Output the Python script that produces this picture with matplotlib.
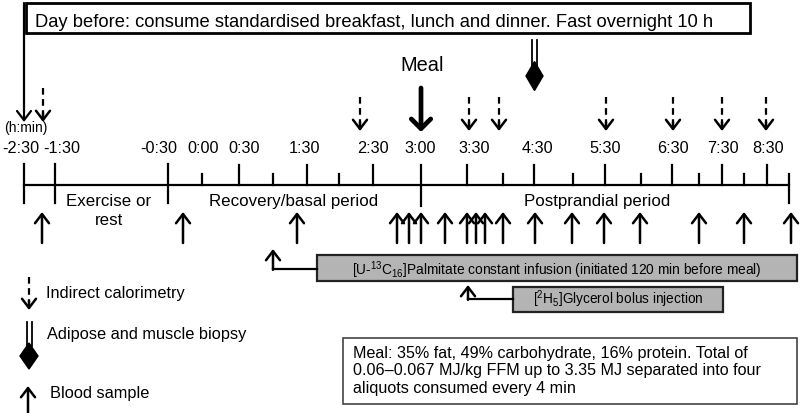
import matplotlib
matplotlib.use("Agg")
import matplotlib.pyplot as plt
from matplotlib.patches import Rectangle, Polygon

plt.rcParams['font.family'] = ['Liberation Sans', 'DejaVu Sans']
plt.rcParams['mathtext.fontset'] = 'custom'
plt.rcParams['mathtext.rm'] = 'Liberation Sans'
plt.rcParams['mathtext.it'] = 'Liberation Sans:italic'
plt.rcParams['mathtext.bf'] = 'Liberation Sans:bold'

# ---- schematic timeline content (positions are schematic, not to scale) ----
tick_labels = ['-2:30', '-1:30', '-0:30', '0:00', '0:30', '1:30', '2:30',
               '3:00', '3:30', '4:30', '5:30', '6:30', '7:30', '8:30']
label_pos = [21, 62, 159, 203, 244, 305, 373, 420, 474, 537, 605, 673, 723, 768]
major_ticks = [239, 307, 373, 467, 534, 605, 672, 722, 767]
long_ticks = [24, 55, 168]
meal_tick = 421
end_tick = 789
minor_ticks = [202, 273, 339, 503, 573, 641, 699, 744]
blood_samples = [42, 183, 297, 397, 409, 421, 445, 467, 476, 485, 503,
                 535, 572, 604, 640, 699, 744, 791]
calorimetry = [43, 360, 469, 499, 606, 673, 722, 766]
biopsy = [534.5]
meal_time = 421
periods = ['Exercise or\nrest', 'Recovery/basal period', 'Postprandial period']
period_pos = [109, 294, 597]

top_text = 'Day before: consume standardised breakfast, lunch and dinner. Fast overnight 10 h'
palmitate_text = r'[U-$^{13}$C$_{16}$]Palmitate constant infusion (initiated 120 min before meal)'
glycerol_text = r'[$^{2}$H$_{5}$]Glycerol bolus injection'
meal_text = ('Meal: 35% fat, 49% carbohydrate, 16% protein. Total of\n'
             '0.06\u20130.067 MJ/kg FFM up to 3.35 MJ separated into four\n'
             'aliquots consumed every 4 min')
legend_labels = ['Indirect calorimetry', 'Adipose and muscle biopsy', 'Blood sample']

fig = plt.figure(figsize=(8, 4.13), dpi=100)
ax = fig.add_axes([0, 0, 1, 1])
ax.set_xlim(0, 800)
ax.set_ylim(413, 0)
ax.axis('off')

LW = 1.6
K = 'black'


def arrow(x, y_from, y_to, lw=1.8, hl=0.55, hw=0.42, ms=12):
    ax.annotate('', xy=(x, y_to), xytext=(x, y_from),
                arrowprops=dict(arrowstyle=f'->,head_length={hl},head_width={hw}',
                                lw=lw, color=K, shrinkA=0, shrinkB=0,
                                mutation_scale=ms))


def dashed_arrow(x, y_from, y_to):
    ax.plot([x, x], [y_from, y_to - 8], color=K, lw=LW, ls=(0, (3, 2)),
            solid_capstyle='butt')
    arrow(x, y_to - 9, y_to)


def biopsy_symbol(x, y_top, y_line_end, yc, hw, hh):
    ax.plot([x - 2.5, x - 2.5], [y_top, y_line_end], color=K, lw=1.3)
    ax.plot([x + 2.5, x + 2.5], [y_top, y_line_end], color=K, lw=1.3)
    ax.add_patch(Polygon([[x, yc - hh], [x + hw, yc], [x, yc + hh], [x - hw, yc]],
                         closed=True, facecolor=K, edgecolor=K, lw=1))


# top box
ax.add_patch(Rectangle((26, 3), 724, 30, facecolor='white', edgecolor=K, lw=2))
ax.text(35, 27, top_text, fontsize=13.2, ha='left', va='baseline')
# long arrow from the box to start
arrow(24, 3, 122, lw=1.6)

# timeline
ax.plot([24, end_tick], [185, 185], color=K, lw=LW)
for x in long_ticks:
    ax.plot([x, x], [164, 203], color=K, lw=LW)
for x in major_ticks:
    ax.plot([x, x], [165, 185], color=K, lw=LW)
for x in minor_ticks:
    ax.plot([x, x], [174, 185], color=K, lw=LW)
ax.plot([meal_tick, meal_tick], [165, 206], color=K, lw=LW)
ax.plot([end_tick, end_tick], [174, 203], color=K, lw=LW)

for lab, x in zip(tick_labels, label_pos):
    ax.text(x, 153, lab, fontsize=11.7, ha='center', va='baseline')
ax.text(26, 132, '(h:min)', fontsize=10, ha='center', va='baseline')

for lab, x in zip(periods, period_pos):
    if '\n' in lab:
        ax.text(x, 225, lab, fontsize=12.2, ha='center', va='baseline',
                linespacing=1.3, multialignment='center')
    else:
        ax.text(x, 206, lab, fontsize=12.2, ha='center', va='baseline')

# blood samples
for x in blood_samples:
    arrow(x, 243, 212)

# indirect calorimetry
for i, x in enumerate(calorimetry):
    if i == 0:
        dashed_arrow(x, 88, 122)
    else:
        dashed_arrow(x, 97, 131)

# meal
ax.text(422, 71, 'Meal', fontsize=14.4, ha='center', va='baseline')
arrow(meal_time, 88, 132, lw=3.4, hl=0.5, hw=0.5, ms=14)

# biopsy
for x in biopsy:
    biopsy_symbol(x, 40, 66, 76, 8.5, 14.5)

# palmitate infusion box
ax.add_patch(Rectangle((317, 255), 480, 26, facecolor='#b4b4b4', edgecolor='#222222', lw=1.6))
ax.text(557, 275, palmitate_text, fontsize=9.9, ha='center', va='baseline')
ax.plot([317, 273], [269, 269], color=K, lw=LW)
arrow(273, 269.8, 249)

# glycerol bolus box
ax.add_patch(Rectangle((513, 287), 210, 25, facecolor='#b4b4b4', edgecolor='#222222', lw=1.6))
ax.text(618, 304, glycerol_text, fontsize=9.8, ha='center', va='baseline')
ax.plot([513, 468], [299, 299], color=K, lw=LW)
arrow(468, 299.8, 285)

# meal description box
ax.add_patch(Rectangle((343, 338), 454, 66, facecolor='white', edgecolor='#444444', lw=1.2))
ax.text(353, 346, meal_text, fontsize=11.6, ha='left', va='top', linespacing=1.2)

# legend
dashed_arrow(29, 277, 310)
ax.text(46, 298, legend_labels[0], fontsize=11.8, ha='left', va='baseline')
biopsy_symbol(29, 322, 346, 356, 9, 13)
ax.text(47, 339, legend_labels[1], fontsize=11.8, ha='left', va='baseline')
arrow(28, 413, 386)
ax.text(50, 398, legend_labels[2], fontsize=11.8, ha='left', va='baseline')

fig.savefig('out.png', dpi=100)
